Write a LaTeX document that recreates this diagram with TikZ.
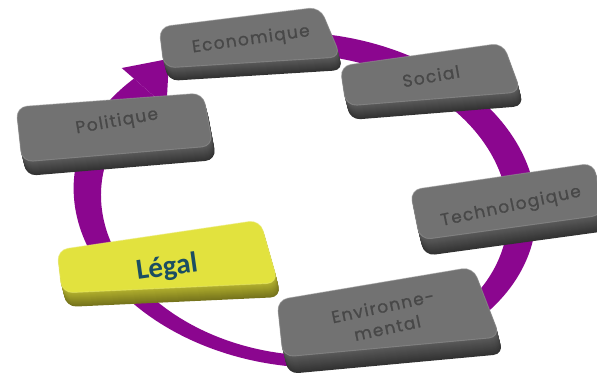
\documentclass[tikz,border=0pt]{standalone}
\usepackage{fontspec}
\newfontfamily\keyfont[LetterSpace=8, FakeBold=1]{Poppins}
\newfontfamily\legalfont{Carlito}
\usetikzlibrary{calc}

\definecolor{ringpurple}{RGB}{139,6,143}
\definecolor{slabface}{RGB}{114,114,114}
\definecolor{slabside}{RGB}{92,92,92}
\definecolor{slabedge}{RGB}{50,50,50}
\definecolor{legalface}{RGB}{226,226,62}
\definecolor{legalside}{RGB}{180,178,46}
\definecolor{legaledge}{RGB}{118,116,28}
\definecolor{engrave}{RGB}{72,72,72}
\definecolor{legaltext}{RGB}{27,78,98}

% A raised slab: four face corners, face colour, side colour, bottom edge colour, depth
\newcommand{\slab}[8]{%
  \foreach \d in {#8,...,1}{%
    \pgfmathtruncatemacro{\p}{100*(#8-\d)/#8}%
    \fill[#6!\p!#7, rounded corners=11pt, shift={(0.25*\d,-\d)}] #1 -- #2 -- #3 -- #4 -- cycle;
  }
  \fill[#5, rounded corners=11pt] #1 -- #2 -- #3 -- #4 -- cycle;
  \draw[#5!75!white, line width=0.9pt, opacity=0.55, rounded corners=11pt] #1 -- #2 -- #3 -- #4 -- cycle;
}

\tikzset{
  keylabel/.style={font=\keyfont\fontsize{17}{22}\selectfont, text=engrave,
    align=center, inner sep=0pt},
  legallabel/.style={font=\legalfont\bfseries\fontsize{29}{29}\selectfont,
    text=legaltext, inner sep=0pt},
}

\begin{document}
\begin{tikzpicture}[x=1pt, y=1pt]
\useasboundingbox (0,0) rectangle (597,-391);

% the cycle ring with its arrow head
\begin{scope}[shift={(305,-200)}, rotate=-6]
  \fill[ringpurple] (95:232 and 167)
    arc[start angle=95, end angle=-218, x radius=232, y radius=167]
    -- ([shift={(0,-5)}]-218:204 and 150)
    arc[start angle=-218, end angle=95, x radius=204, y radius=150] -- cycle;
  \coordinate (ro) at (-218:232 and 167);
  \coordinate (ri) at ([shift={(0,-5)}]-218:204 and 150);
\end{scope}
\coordinate (rm) at ($(ro)!0.5!(ri)$);
\coordinate (barbout) at ($(ro)!-0.6!(ri)$);
\coordinate (barbin) at ($(ri)!-0.6!(ro)$);
\coordinate (tip) at ($(rm)!38pt!-90:(ro)$);
\fill[ringpurple] (barbout) -- (tip) -- (barbin) -- cycle;

% slabs, back to front
\slab{(159,-27)}{(320,-7)}{(341,-57)}{(164,-68)}{slabface}{slabside}{slabedge}{13}
\node[keylabel, rotate=8] (economique) at (251,-40) {Economique};

\slab{(340,-66)}{(503,-43)}{(521,-92)}{(346,-106)}{slabface}{slabside}{slabedge}{14}
\node[keylabel, rotate=10] (social) at (431,-76) {Social};

\slab{(16,-107)}{(203,-93)}{(213,-146)}{(22,-162)}{slabface}{slabside}{slabedge}{14}
\node[keylabel, rotate=10] (politique) at (117,-122) {Politique};

\slab{(410,-190)}{(594,-163)}{(603,-215)}{(420,-240)}{slabface}{slabside}{slabedge}{16}
\node[keylabel, rotate=12] (technologique) at (511,-207) {Technologique};

\slab{(57,-250)}{(260,-220)}{(278,-283)}{(62,-293)}{legalface}{legalside}{legaledge}{14}
\node[legallabel, rotate=8] (legal) at (167,-268) {Légal};

\slab{(277,-300)}{(473,-267)}{(500,-337)}{(283,-357)}{slabface}{slabside}{slabedge}{17}
\node[keylabel, rotate=12] (environnement) at (385,-317) {Environne-\\mental};

\end{tikzpicture}
\end{document}
